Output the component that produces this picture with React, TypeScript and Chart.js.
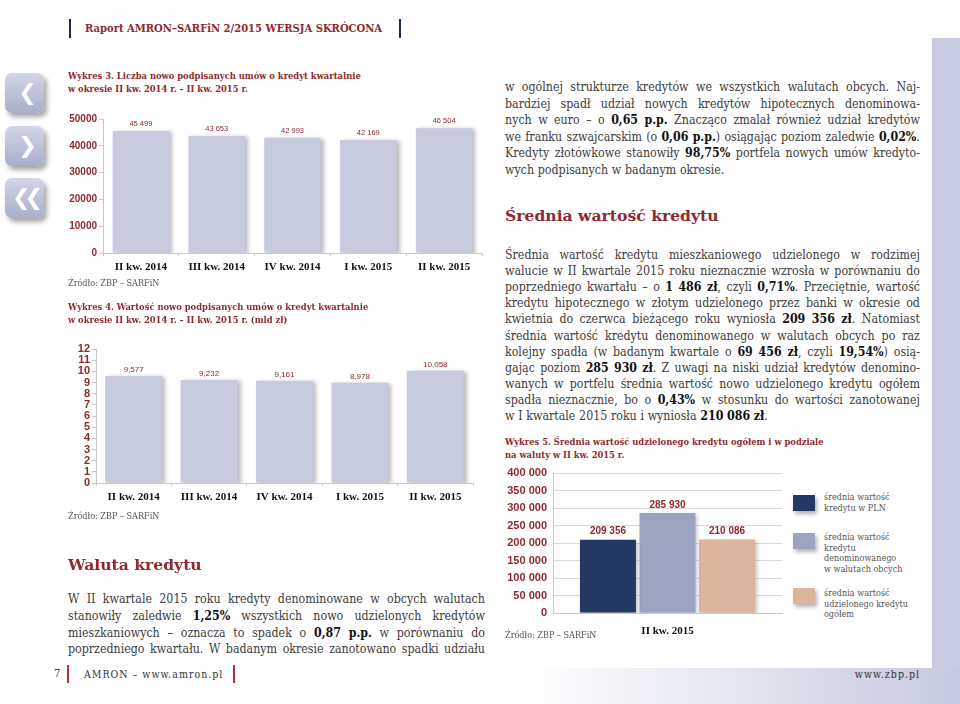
import React, { useEffect, useRef } from "react";
import { Chart, registerables } from "chart.js";

Chart.register(...registerables);

// ---------------- data ----------------
const quarterLabels = ["II kw. 2014", "III kw. 2014", "IV kw. 2014", "I kw. 2015", "II kw. 2015"];
const contractCounts = [45499, 43653, 42993, 42169, 46504];
const countAxisMax = 50000;
const countAxisStep = 10000;

const contractValuesBn = [9.577, 9.232, 9.161, 8.978, 10.058];
const valueAxisMax = 12;
const valueAxisStep = 1;

const avgQuarter = ["II kw. 2015"];
const avgSeriesNames = [
  ["średnia wartość", "kredytu w PLN"],
  ["średnia wartość", "kredytu", "denominowanego", "w walutach obcych"],
  ["średnia wartość", "udzielonego kredytu", "ogółem"],
];
const avgSeriesValues = [209356, 285930, 210086];
const avgAxisMax = 400000;
const avgAxisStep = 50000;

// ---------------- text ----------------
const para1 = [
  "w ogólnej strukturze kredytów we wszystkich walutach obcych. Naj-",
  "bardziej spadł udział nowych kredytów hipotecznych denominowa-",
  "nych w euro – o **0,65 p.p.** Znacząco zmalał również udział kredytów",
  "we franku szwajcarskim (o **0,06 p.p.**) osiągając poziom zaledwie **0,02%**.",
  "Kredyty złotówkowe stanowiły **98,75%** portfela nowych umów kredyto-",
  "wych podpisanych w badanym okresie.",
];
const para2 = [
  "Średnia wartość kredytu mieszkaniowego udzielonego w rodzimej",
  "walucie w II kwartale 2015 roku nieznacznie wzrosła w porównaniu do",
  "poprzedniego kwartału – o **1 486 zł**, czyli **0,71%**. Przeciętnie, wartość",
  "kredytu hipotecznego w złotym udzielonego przez banki w okresie od",
  "kwietnia do czerwca bieżącego roku wyniosła **209 356 zł**. Natomiast",
  "średnia wartość kredytu denominowanego w walutach obcych po raz",
  "kolejny spadła (w badanym kwartale o **69 456 zł**, czyli **19,54%**) osią-",
  "gając poziom **285 930 zł**. Z uwagi na niski udział kredytów denomino-",
  "wanych w portfelu średnia wartość nowo udzielonego kredytu ogółem",
  "spadła nieznacznie, bo o **0,43%** w stosunku do wartości zanotowanej",
  "w I kwartale 2015 roku i wyniosła **210 086 zł**.",
];
const para3 = [
  "W II kwartale 2015 roku kredyty denominowane w obcych walutach",
  "stanowiły zaledwie **1,25%** wszystkich nowo udzielonych kredytów",
  "mieszkaniowych – oznacza to spadek o **0,87 p.p.** w porównaniu do",
  "poprzedniego kwartału. W badanym okresie zanotowano spadki udziału",
];

// ---------------- styles ----------------
const RED = "#8e2a2e";
const TEXT = "#3d3d3d";
const BAR = "#c8cadd";
const AVG_COLORS = ["#243864", "#9ca4c2", "#dcb39d"];
const AXIS = "#c8c8c8";
const PANEL = "#c9cce0";
const SLAB = "'DejaVu Serif Condensed', 'DejaVu Serif', serif";
const SLAB_WIDE = "'DejaVu Serif', serif";
const TIMES = "'Liberation Serif', serif";
const SANS = "'Liberation Sans', sans-serif";

const spaced = (n: number) => String(n).replace(/\B(?=(\d{3})+(?!\d))/g, " ");
const commaDec = (n: number) => n.toFixed(3).replace(".", ",");

// ---------------- plugins ----------------
const shadowPlugin = (color: string, blur: number, ox: number, oy: number) => ({
  id: "barShadow",
  beforeDatasetsDraw(chart: any) {
    const c = chart.ctx;
    c.save();
    c.shadowColor = color;
    c.shadowBlur = blur;
    c.shadowOffsetX = ox;
    c.shadowOffsetY = oy;
  },
  afterDatasetsDraw(chart: any) {
    chart.ctx.restore();
  },
});

const valueLabelPlugin = (fmt: (v: number) => string, font: string, color: string, gap: number) => ({
  id: "valueLabels",
  afterDatasetsDraw(chart: any) {
    const c = chart.ctx;
    chart.data.datasets.forEach((ds: any, di: number) => {
      chart.getDatasetMeta(di).data.forEach((el: any, i: number) => {
        c.save();
        c.font = font;
        c.fillStyle = color;
        c.textAlign = "center";
        c.textBaseline = "middle";
        c.fillText(fmt(ds.data[i] as number), el.x, el.y - gap);
        c.restore();
      });
    });
  },
});

// ---------------- chart configs ----------------
function quarterBarConfig(
  values: number[],
  max: number,
  step: number,
  yWidth: number,
  padTop: number,
  barPct: number,
  yFontSize: number,
  labelFmt: (v: number) => string,
  labelFont: string,
  labelGap: number
): any {
  return {
    type: "bar",
    data: {
      labels: quarterLabels,
      datasets: [
        {
          data: values,
          backgroundColor: BAR,
          borderWidth: 0,
          categoryPercentage: 1,
          barPercentage: barPct,
        },
      ],
    },
    options: {
      responsive: false,
      animation: false,
      devicePixelRatio: 1,
      layout: { padding: { top: padTop, right: 2, left: 0, bottom: 0 } },
      plugins: { legend: { display: false }, tooltip: { enabled: false } },
      scales: {
        x: {
          offset: true,
          grid: { display: true, drawOnChartArea: false, drawTicks: true, tickLength: 3, color: AXIS, offset: true },
          border: { display: true, color: AXIS },
          ticks: {
            font: { family: TIMES, size: 11, weight: "bold" },
            color: "#111",
            padding: 5,
            maxRotation: 0,
            autoSkip: false,
          },
          afterFit: (s: any) => {
            s.height = 28;
          },
        },
        y: {
          min: 0,
          max,
          ticks: {
            stepSize: step,
            autoSkip: false,
            font: { family: SANS, size: yFontSize, weight: "bold" },
            color: RED,
            padding: 2,
            callback: (v: any) => String(v),
          },
          grid: { display: true, drawOnChartArea: false, drawTicks: true, tickLength: 4, color: AXIS },
          border: { display: true, color: AXIS },
          afterFit: (s: any) => {
            s.width = yWidth;
          },
        },
      },
    },
    plugins: [
      shadowPlugin("rgba(60,60,80,0.35)", 4, 3, 1),
      valueLabelPlugin(labelFmt, labelFont, RED, labelGap),
    ],
  };
}

function avgConfig(): any {
  return {
    type: "bar",
    data: {
      labels: avgQuarter,
      datasets: avgSeriesValues.map((v, i) => ({
        label: avgSeriesNames[i].join(" "),
        data: [v],
        backgroundColor: AVG_COLORS[i],
        borderWidth: 0,
        categoryPercentage: 0.78,
        barPercentage: 0.94,
      })),
    },
    options: {
      responsive: false,
      animation: false,
      devicePixelRatio: 1,
      layout: { padding: { top: 13, right: 4, left: 0, bottom: 0 } },
      plugins: { legend: { display: false }, tooltip: { enabled: false } },
      scales: {
        x: {
          grid: { display: false },
          border: { display: true, color: AXIS },
          ticks: {
            font: { family: TIMES, size: 11, weight: "bold" },
            color: "#111",
            padding: 4,
            maxRotation: 0,
          },
          afterFit: (s: any) => {
            s.height = 22;
          },
        },
        y: {
          min: 0,
          max: avgAxisMax,
          ticks: {
            stepSize: avgAxisStep,
            autoSkip: false,
            font: { family: SANS, size: 11, weight: "bold" },
            color: RED,
            padding: 6,
            callback: (v: any) => spaced(Number(v)),
          },
          grid: { display: true, drawOnChartArea: true, drawTicks: false, color: "#dadada" },
          border: { display: true, color: AXIS },
          afterFit: (s: any) => {
            s.width = 58;
          },
        },
      },
    },
    plugins: [
      shadowPlugin("rgba(60,60,80,0.3)", 4, 2, 2),
      valueLabelPlugin(spaced, `bold 10px ${SANS}`, RED, 8),
    ],
  };
}

// ---------------- components ----------------
function ChartBox({ left, top, width, height, make }: any) {
  const ref = useRef<HTMLCanvasElement>(null);
  useEffect(() => {
    const chart = new Chart(ref.current as HTMLCanvasElement, make());
    return () => chart.destroy();
  }, []);
  return (
    <div style={{ position: "absolute", left, top, width, height }}>
      <canvas ref={ref} width={width} height={height} style={{ width, height, display: "block" }} />
    </div>
  );
}

type Seg = { t: string; b: boolean };
function parseLine(s: string): Seg[][] {
  const words: Seg[][] = [];
  let bold = false;
  let cur: Seg[] = [];
  let buf = "";
  const flush = () => {
    if (buf) {
      cur.push({ t: buf, b: bold });
      buf = "";
    }
  };
  for (let i = 0; i < s.length; i++) {
    if (s.startsWith("**", i)) {
      flush();
      bold = !bold;
      i++;
      continue;
    }
    const ch = s[i];
    if (ch === " ") {
      flush();
      if (cur.length) words.push(cur);
      cur = [];
      continue;
    }
    buf += ch;
  }
  flush();
  if (cur.length) words.push(cur);
  return words;
}

function Para({ lines, x, y0, step, width, justifyLast }: any) {
  return (
    <>
      {lines.map((ln: string, i: number) => {
        const justify = i < lines.length - 1 || justifyLast;
        const words = parseLine(ln);
        return (
          <div
            key={i}
            style={{
              position: "absolute",
              left: x,
              top: y0 + i * step - 9,
              width,
              height: 18,
              lineHeight: "18px",
              display: "flex",
              justifyContent: justify ? "space-between" : "flex-start",
              columnGap: justify ? 2 : 3.7,
              whiteSpace: "nowrap",
              fontFamily: SLAB,
              fontSize: 12.3,
              color: TEXT,
            }}
          >
            {words.map((w, wi) => (
              <span key={wi}>
                {w.map((sg, si) =>
                  sg.b ? (
                    <span key={si} style={{ fontFamily: SLAB, fontWeight: 700, color: "#111" }}>
                      {sg.t}
                    </span>
                  ) : (
                    <span key={si}>{sg.t}</span>
                  )
                )}
              </span>
            ))}
          </div>
        );
      })}
    </>
  );
}

function Txt({ x, y, children, style }: any) {
  return (
    <div
      style={{
        position: "absolute",
        left: x,
        top: y - 8,
        height: 16,
        lineHeight: "16px",
        whiteSpace: "nowrap",
        ...style,
      }}
    >
      {children}
    </div>
  );
}

const titleStyle = { fontFamily: SLAB, fontWeight: 700, fontSize: 9.3, color: RED };
const sourceStyle = { fontFamily: SLAB, fontSize: 9, color: "#555" };
const headStyle = { fontFamily: SLAB_WIDE, fontWeight: 700, fontSize: 15.6, color: RED };

function NavButton({ top, glyph }: any) {
  return (
    <div
      style={{
        position: "absolute",
        left: 5,
        top,
        width: 39,
        height: 40,
        borderRadius: 7,
        background: "linear-gradient(#d3d6e6, #a9aecb)",
        boxShadow: "3px 4px 5px rgba(0,0,0,0.35)",
        color: "#fff",
        fontFamily: "'DejaVu Sans', sans-serif",
        fontWeight: 700,
        fontSize: 22,
        lineHeight: "40px",
        textAlign: "center",
        letterSpacing: -6,
      }}
    >
      {glyph}
    </div>
  );
}

export default function App() {
  return (
    <div
      style={{
        position: "absolute",
        left: 0,
        top: 0,
        width: 960,
        height: 704,
        overflow: "hidden",
        background: "#fff",
      }}
    >
      {/* page decorations */}
      <div
        style={{
          position: "absolute",
          left: 0,
          top: 668,
          width: 960,
          height: 36,
          background: "linear-gradient(to right, #ffffff 55%, #c6c9de 100%)",
        }}
      />
      <div style={{ position: "absolute", left: 932, top: 38, width: 28, height: 630, background: PANEL }} />

      {/* header */}
      <div style={{ position: "absolute", left: 69, top: 19, width: 2, height: 19, background: "#1f2b4b" }} />
      <div style={{ position: "absolute", left: 399, top: 19, width: 2, height: 19, background: "#1f2b4b" }} />
      <Txt x={85} y={29} style={{ fontFamily: SLAB, fontWeight: 700, fontSize: 11.1, color: RED }}>
        Raport AMRON–SARFiN 2/2015 WERSJA SKRÓCONA
      </Txt>

      <NavButton top={73} glyph="❮" />
      <NavButton top={126} glyph="❯" />
      <NavButton top={178} glyph="❮❮" />

      {/* Wykres 3 */}
      <Txt x={68} y={76} style={titleStyle}>
        Wykres 3. Liczba nowo podpisanych umów o kredyt kwartalnie
      </Txt>
      <Txt x={68} y={89} style={titleStyle}>
        w okresie II kw. 2014 r. – II kw. 2015 r.
      </Txt>
      <ChartBox
        left={60}
        top={100}
        width={424}
        height={181}
        make={() =>
          quarterBarConfig(contractCounts, countAxisMax, countAxisStep, 43, 19, 0.745, 10, spaced, `7.5px ${SANS}`, 7)
        }
      />
      <Txt x={68} y={283} style={sourceStyle}>
        Źródło: ZBP – SARFiN
      </Txt>

      {/* Wykres 4 */}
      <Txt x={68} y={307} style={titleStyle}>
        Wykres 4. Wartość nowo podpisanych umów o kredyt kwartalnie
      </Txt>
      <Txt x={68} y={320} style={titleStyle}>
        w okresie II kw. 2014 r. – II kw. 2015 r. (mld zł)
      </Txt>
      <ChartBox
        left={55}
        top={335}
        width={420}
        height={176}
        make={() =>
          quarterBarConfig(contractValuesBn, valueAxisMax, valueAxisStep, 41, 14, 0.755, 11, commaDec, `8px ${SANS}`, 6)
        }
      />
      <Txt x={68} y={516} style={sourceStyle}>
        Źródło: ZBP – SARFiN
      </Txt>

      {/* Waluta kredytu */}
      <Txt x={68} y={565} style={{ ...headStyle, height: 22, top: 554, lineHeight: "22px" }}>
        Waluta kredytu
      </Txt>
      <Para lines={para3} x={68} y0={599} step={16.8} width={417} justifyLast={true} />

      {/* right column */}
      <Para lines={para1} x={505} y0={87} step={16.5} width={415} justifyLast={false} />
      <Txt x={505} y={216} style={{ ...headStyle, height: 22, top: 205, lineHeight: "22px" }}>
        Średnia wartość kredytu
      </Txt>
      <Para lines={para2} x={505} y0={255} step={16.1} width={415} justifyLast={false} />

      {/* Wykres 5 */}
      <Txt x={505} y={442} style={titleStyle}>
        Wykres 5. Średnia wartość udzielonego kredytu ogółem i w podziale
      </Txt>
      <Txt x={505} y={455} style={titleStyle}>
        na waluty w II kw. 2015 r.
      </Txt>
      <ChartBox left={495} top={460} width={291} height={175} make={avgConfig} />
      <Txt x={505} y={635} style={sourceStyle}>
        Źródło: ZBP – SARFiN
      </Txt>

      {/* legend for Wykres 5 */}
      {[
        { top: 495, textY: 497 },
        { top: 533, textY: 537 },
        { top: 588, textY: 593 },
      ].map((p, i) => (
        <React.Fragment key={i}>
          <div
            style={{
              position: "absolute",
              left: 793,
              top: p.top,
              width: 22,
              height: 16,
              background: AVG_COLORS[i],
              boxShadow: "2px 3px 4px rgba(0,0,0,0.3)",
            }}
          />
          {avgSeriesNames[i].map((t, j) => (
            <Txt key={j} x={824} y={p.textY + j * 10.5} style={{ fontFamily: SLAB, fontSize: 9, color: "#555" }}>
              {t}
            </Txt>
          ))}
        </React.Fragment>
      ))}

      {/* footer */}
      <Txt x={54} y={674} style={{ fontFamily: SLAB, fontSize: 11, color: "#333" }}>
        7
      </Txt>
      <div style={{ position: "absolute", left: 67, top: 665, width: 1.5, height: 18, background: "#a33" }} />
      <Txt x={84} y={674} style={{ fontFamily: SLAB, fontSize: 10.5, color: "#333", letterSpacing: 1 }}>
        AMRON – www.amron.pl
      </Txt>
      <div style={{ position: "absolute", left: 233, top: 665, width: 1.5, height: 18, background: "#a33" }} />
      <Txt x={820} y={674} style={{ fontFamily: SLAB, fontSize: 10.5, color: "#333", letterSpacing: 1, width: 100, textAlign: "right" }}>
        www.zbp.pl
      </Txt>
    </div>
  );
}
